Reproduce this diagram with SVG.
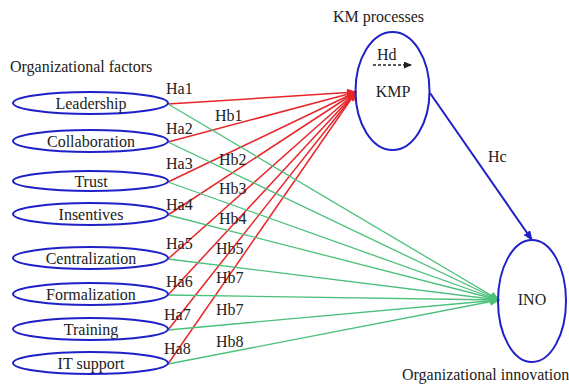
<svg xmlns="http://www.w3.org/2000/svg" width="569" height="385" viewBox="0 0 569 385">
<style>
text{font-family:"Liberation Serif","Times New Roman",serif;font-size:16px;fill:#222}
.n ellipse{fill:none;stroke:#2020c8;stroke-width:2}
.c{text-anchor:middle}
.r{stroke:#e8262a;stroke-width:1.5;fill:none}
.g{stroke:#4cc07a;stroke-width:1.3;fill:none}
.b{stroke:#2020c8;stroke-width:2;fill:none}
</style>
<defs>
<marker id="ar" markerWidth="10" markerHeight="8" refX="9" refY="4" orient="auto" markerUnits="userSpaceOnUse"><path d="M0,0 L10,4 L0,8 Z" fill="#e8262a"/></marker>
<marker id="ag" markerWidth="10" markerHeight="8" refX="9" refY="4" orient="auto" markerUnits="userSpaceOnUse"><path d="M0,0 L10,4 L0,8 Z" fill="#4cc07a"/></marker>
<marker id="ab" markerWidth="10" markerHeight="8" refX="9" refY="4" orient="auto" markerUnits="userSpaceOnUse"><path d="M0,0 L10,4 L0,8 Z" fill="#2020c8"/></marker>
<marker id="ak" markerWidth="8" markerHeight="7" refX="7" refY="3.5" orient="auto" markerUnits="userSpaceOnUse"><path d="M0,0 L8,3.5 L0,7 Z" fill="#222"/></marker>
</defs>
<text x="10" y="72">Organizational factors</text>
<text x="333" y="22">KM processes</text>
<text x="402" y="380">Organizational innovation</text>
<g id="connectors">
<g class="r" marker-end="url(#ar)">
<line x1="168" y1="104" x2="356" y2="92"/>
<line x1="168" y1="142" x2="356" y2="92"/>
<line x1="168" y1="182" x2="356" y2="92"/>
<line x1="168" y1="215" x2="356" y2="92"/>
<line x1="168" y1="259" x2="356" y2="92"/>
<line x1="168" y1="295" x2="356" y2="92"/>
<line x1="168" y1="330" x2="356" y2="92"/>
<line x1="168" y1="364" x2="356" y2="92"/>
</g>
<g class="g" marker-end="url(#ag)">
<line x1="168" y1="104" x2="499" y2="300"/>
<line x1="168" y1="142" x2="499" y2="300"/>
<line x1="168" y1="182" x2="499" y2="300"/>
<line x1="168" y1="215" x2="499" y2="300"/>
<line x1="168" y1="259" x2="499" y2="300"/>
<line x1="168" y1="295" x2="499" y2="300"/>
<line x1="168" y1="330" x2="499" y2="300"/>
<line x1="168" y1="364" x2="499" y2="300"/>
</g>
<line class="b" x1="430" y1="93" x2="532" y2="240" marker-end="url(#ab)"/>
<line x1="373" y1="65" x2="411" y2="65" stroke="#222" stroke-width="1.5" stroke-dasharray="3,2" marker-end="url(#ak)"/>
<text x="166" y="94">Ha1</text>
<text x="166" y="134">Ha2</text>
<text x="166" y="169">Ha3</text>
<text x="166" y="210">Ha4</text>
<text x="166" y="249">Ha5</text>
<text x="166" y="287">Ha6</text>
<text x="164" y="320">Ha7</text>
<text x="164" y="354">Ha8</text>
<text x="215" y="121">Hb1</text>
<text x="219" y="165">Hb2</text>
<text x="219" y="194">Hb3</text>
<text x="219" y="224">Hb4</text>
<text x="216" y="254">Hb5</text>
<text x="216" y="283">Hb7</text>
<text x="216" y="315">Hb7</text>
<text x="216" y="347">Hb8</text>
<text x="488" y="162">Hc</text>
<text x="377" y="60">Hd</text>
</g>
<g id="leadership" class="n"><ellipse cx="90.5" cy="103" rx="77.5" ry="11"/><text class="c" x="91" y="109">Leadership</text></g>
<g id="collaboration" class="n"><ellipse cx="90.5" cy="141" rx="77.5" ry="11"/><text class="c" x="91" y="147">Collaboration</text></g>
<g id="trust" class="n"><ellipse cx="90.5" cy="181" rx="77.5" ry="10"/><text class="c" x="91" y="187">Trust</text></g>
<g id="insentives" class="n"><ellipse cx="90.5" cy="214" rx="77.5" ry="11"/><text class="c" x="91" y="220">Insentives</text></g>
<g id="centralization" class="n"><ellipse cx="90.5" cy="258" rx="77.5" ry="11"/><text class="c" x="91" y="264">Centralization</text></g>
<g id="formalization" class="n"><ellipse cx="90.5" cy="294" rx="77.5" ry="11"/><text class="c" x="91" y="300">Formalization</text></g>
<g id="training" class="n"><ellipse cx="90.5" cy="329" rx="77.5" ry="11"/><text class="c" x="91" y="335">Training</text></g>
<g id="itsupport" class="n"><ellipse cx="90.5" cy="363" rx="77.5" ry="11"/><text class="c" x="91" y="369">IT support</text></g>
<g id="kmp" class="n"><ellipse cx="392.5" cy="91" rx="37" ry="59"/><text class="c" x="393" y="97">KMP</text></g>
<g id="ino" class="n"><ellipse cx="532" cy="301" rx="34" ry="61"/><text class="c" x="532" y="305">INO</text></g>
</svg>
